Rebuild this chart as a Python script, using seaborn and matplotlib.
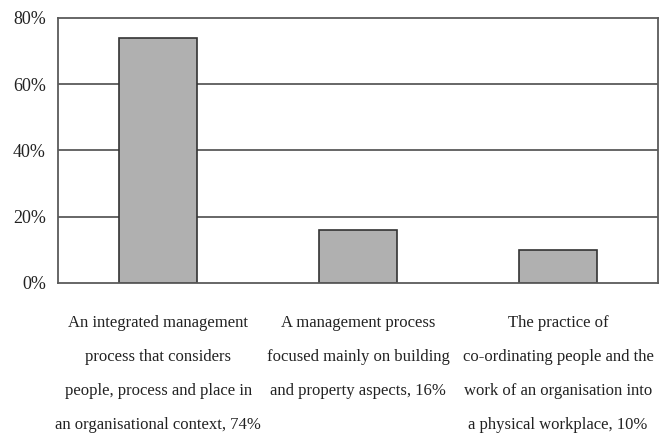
import matplotlib
matplotlib.use("Agg")
import matplotlib.pyplot as plt
import seaborn as sns
import pandas as pd
from matplotlib.ticker import FuncFormatter, FixedLocator

# Data
categories = [
    "An integrated management\nprocess that considers\npeople, process and place in\nan organisational context, 74%",
    "A management process\nfocused mainly on building\nand property aspects, 16%",
    "The practice of\nco-ordinating people and the\nwork of an organisation into\na physical workplace, 10%",
]
values = [74, 16, 10]
y_ticks = [0, 20, 40, 60, 80]

sns.set_style("white")
plt.rcParams['font.family'] = ['Liberation Serif', 'DejaVu Serif']

df = pd.DataFrame({"category": categories, "value": values})

fig = plt.figure(figsize=(6.7, 4.36), dpi=100)
ax = fig.add_axes([0.087, 0.351, 0.895, 0.608])

line_col = "#5a5a5a"
ax.set_axisbelow(True)
for t in y_ticks[1:-1]:
    ax.axhline(t, color=line_col, lw=1.3, zorder=0)

sns.barplot(data=df, x="category", y="value", color="#b0b0b0",
            edgecolor="#333333", linewidth=1.2, width=0.39,
            saturation=1, ax=ax, zorder=2)

ax.set_ylim(0, 80)
ax.set_xlim(-0.5, 2.5)
ax.set_yticks(y_ticks)
ax.yaxis.set_major_formatter(FuncFormatter(lambda v, p: f"{v:.0f}%"))
ax.set_xlabel("")
ax.set_ylabel("")

for s in ax.spines.values():
    s.set_color(line_col)
    s.set_linewidth(1.3)

ax.tick_params(axis="y", direction="out", length=5, width=1.2, color=line_col,
               labelsize=13, labelcolor="#222222", pad=4)
ax.tick_params(axis="x", which="major", length=0, labelsize=12,
               labelcolor="#222222", pad=23)
ax.xaxis.set_minor_locator(FixedLocator([-0.5, 0.5, 1.5, 2.5]))
ax.tick_params(axis="x", which="minor", direction="out", length=6, width=1.2,
               color=line_col)
for lbl in ax.get_xticklabels():
    lbl.set_horizontalalignment("center")
    lbl.set_multialignment("center")
    lbl.set_linespacing(2.5)

fig.savefig("out.png", dpi=100)
